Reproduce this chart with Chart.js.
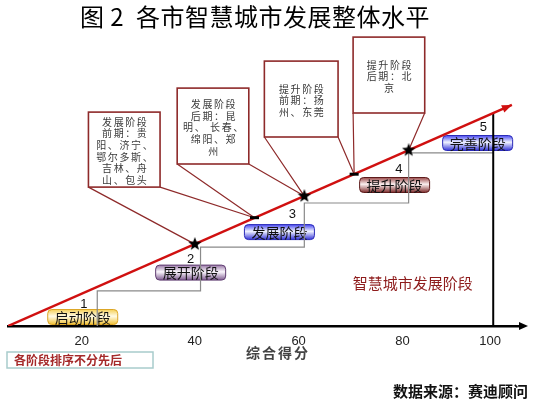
<!DOCTYPE html>
<html lang="zh">
<head>
<meta charset="utf-8">
<title>各市智慧城市发展整体水平</title>
<script src="https://cdn.jsdelivr.net/npm/chart.js@4.4.1/dist/chart.umd.min.js"></script>
<style>
  html, body { margin: 0; padding: 0; background: #fff; }
  #wrap { position: relative; width: 533px; height: 403px; }
</style>
</head>
<body>
<div id="wrap"><canvas id="stageChart"></canvas></div>
<script>
// x axis: tick labels and where they sit on the (schematic) score axis
const xTickLabels = ['20', '40', '60', '80', '100'];
const xTickValues = [18.2, 40, 60, 80, 96.9];

// red development trend line (start and tip)
const trendX = [4, 101.1];
const trendY = [0, 73.7];

// stage staircase: boundaries on x, level of each step on y
const stepX = [21.2, 41.1, 61.1, 81.2, 97.5];
const stepY = [11.7, 26.3, 41, 57.7];

// vertical line at full score
const fullX = 97.5;
const fullY = [0, 71];

// stars and small dashes sitting on the trend line
const starX = [40, 61.1, 81.2];
const starY = [27.3, 43.3, 58.6];
const dashX = [51.5, 70.7];
const dashY = [36.1, 50.6];

// stages
const stageNames = ['启动阶段', '展开阶段', '发展阶段', '提升阶段', '完善阶段'];
const stageNumbers = ['1', '2', '3', '4', '5'];

// callout texts
const calloutTexts = [
    ['发展阶段', '前期：贵', '阳、济宁、', '鄂尔多斯、', '吉林、舟', '山、包头'],
    ['发展阶段', '后期：昆', '明、 长春、', '绵阳、郑', '州'],
    ['提升阶段', '前期：扬', '州、东莞'],
    ['提升阶段', '后期：北', '京']
];

// ---- layout (data units) ----
const stageLayout = [
    { cx: 18.4, cy: 3.0, nx: 18.6, ny: 7.3, pal: ['#f5cf55', '#fffbe6', '#f0c035', '#dca626'] },
    { cx: 39.2, cy: 17.8, nx: 39.2, ny: 22.3, pal: ['#9a7aa8', '#fbf7fd', '#7e5a90', '#5e3c70'] },
    { cx: 56.3, cy: 31.3, nx: 58.8, ny: 37.3, pal: ['#4a4af0', '#f0f3ff', '#3434d8', '#2a2ab8'] },
    { cx: 78.5, cy: 47.0, nx: 79.3, ny: 52.3, pal: ['#9a4a4a', '#fbf0f0', '#7e2c2c', '#5e1c1c'] },
    { cx: 94.5, cy: 61.0, nx: 95.6, ny: 66.3, pal: ['#4a4af0', '#f0f3ff', '#3434d8', '#2a2ab8'] }
];

const calloutLayout = [
    { x1: 19.5, x2: 33.3, y1: 71.3, y2: 46.3, to: [['star', 0], ['dash', 0]] },
    { x1: 36.6, x2: 50.4, y1: 79.3, y2: 54.0, to: [['dash', 0], ['star', 1]] },
    { x1: 53.4, x2: 67.6, y1: 88.3, y2: 63.0, to: [['star', 1], ['dash', 1]] },
    { x1: 70.5, x2: 84.3, y1: 96.3, y2: 71.0, to: [['dash', 1], ['star', 2]] }
];

const CJK = '"Noto Sans CJK SC", "Liberation Sans", sans-serif';
Chart.defaults.font.family = CJK;

// filled star used as point style
function makeStar(size) {
    const c = document.createElement('canvas');
    c.width = size; c.height = size;
    const g = c.getContext('2d');
    const r = size / 2, ri = r * 0.42;
    g.beginPath();
    for (let i = 0; i < 10; i++) {
        const a = -Math.PI / 2 + i * Math.PI / 5;
        const rr = i % 2 === 0 ? r : ri;
        g.lineTo(r + rr * Math.cos(a), r + rr * Math.sin(a));
    }
    g.closePath();
    g.fillStyle = '#000';
    g.fill();
    return c;
}
const starImg = makeStar(14);

// staircase points
const stepPoints = [{ x: stepX[0], y: 0 }];
stepY.forEach((lvl, i) => {
    stepPoints.push({ x: stepX[i], y: lvl });
    stepPoints.push({ x: stepX[i + 1], y: lvl });
});

function anchor(ref, xs, ys) {
    const arrX = ref[0] === 'star' ? starX : dashX;
    const arrY = ref[0] === 'star' ? starY : dashY;
    return { x: xs.getPixelForValue(arrX[ref[1]]), y: ys.getPixelForValue(arrY[ref[1]]) };
}

function roundRectPath(ctx, l, t, w, h, r) {
    ctx.beginPath();
    ctx.moveTo(l + r, t);
    ctx.lineTo(l + w - r, t);
    ctx.quadraticCurveTo(l + w, t, l + w, t + r);
    ctx.lineTo(l + w, t + h - r);
    ctx.quadraticCurveTo(l + w, t + h, l + w - r, t + h);
    ctx.lineTo(l + r, t + h);
    ctx.quadraticCurveTo(l, t + h, l, t + h - r);
    ctx.lineTo(l, t + r);
    ctx.quadraticCurveTo(l, t, l + r, t);
    ctx.closePath();
}

const stageArt = {
    id: 'stageArt',
    beforeDatasetsDraw(chart) {
        const ctx = chart.ctx;
        const xs = chart.scales.x, ys = chart.scales.y;
        ctx.save();

        // callout boxes with their pointers
        calloutLayout.forEach((b, i) => {
            const l = xs.getPixelForValue(b.x1), r = xs.getPixelForValue(b.x2);
            const t = ys.getPixelForValue(b.y1), btm = ys.getPixelForValue(b.y2);
            const p1 = anchor(b.to[0], xs, ys), p2 = anchor(b.to[1], xs, ys);
            ctx.strokeStyle = '#8e2a2a';
            ctx.lineWidth = 1.2;
            ctx.beginPath();
            ctx.moveTo(l, btm); ctx.lineTo(p1.x, p1.y);
            ctx.moveTo(r, btm); ctx.lineTo(p2.x, p2.y);
            ctx.stroke();
            ctx.fillStyle = '#fff';
            ctx.fillRect(l, t, r - l, btm - t);
            ctx.lineWidth = 1.6;
            ctx.strokeRect(l, t, r - l, btm - t);

            const lines = calloutTexts[i];
            const lh = 11.6;
            const cy = (t + btm) / 2 + 1.5 - (lines.length - 1) * lh / 2;
            ctx.fillStyle = '#3a3a3a';
            ctx.font = '10px ' + CJK;
            ctx.letterSpacing = '1.6px';
            ctx.textAlign = 'center';
            ctx.textBaseline = 'middle';
            lines.forEach((s, k) => ctx.fillText(s, (l + r) / 2 + 1, cy + k * lh));
            ctx.letterSpacing = '0px';
        });

        // stage labels (lines pass over them)
        stageLayout.forEach((s, i) => {
            const cx = xs.getPixelForValue(s.cx), cy = ys.getPixelForValue(s.cy);
            const w = 70, h = 15, l = cx - w / 2, t = cy - h / 2;
            const g = ctx.createLinearGradient(0, t, 0, t + h);
            g.addColorStop(0, s.pal[0]);
            g.addColorStop(0.45, s.pal[1]);
            g.addColorStop(1, s.pal[2]);
            roundRectPath(ctx, l, t, w, h, 4);
            ctx.fillStyle = g;
            ctx.fill();
            ctx.strokeStyle = s.pal[3];
            ctx.lineWidth = 1;
            ctx.stroke();
            ctx.fillStyle = '#111';
            ctx.font = '14px ' + CJK;
            ctx.textAlign = 'center';
            ctx.textBaseline = 'middle';
            ctx.fillText(stageNames[i], cx, cy + 0.5);

            ctx.font = '13px "Liberation Sans", sans-serif';
            ctx.fillText(stageNumbers[i], xs.getPixelForValue(s.nx), ys.getPixelForValue(s.ny));
        });
        ctx.restore();
    },
    afterDraw(chart) {
        const ctx = chart.ctx;
        const xs = chart.scales.x, ys = chart.scales.y;
        const area = chart.chartArea;
        ctx.save();

        // arrow head on trend line
        const ax = xs.getPixelForValue(trendX[1]), ay = ys.getPixelForValue(trendY[1]);
        const bx = xs.getPixelForValue(trendX[0]), by = ys.getPixelForValue(trendY[0]);
        const ang = Math.atan2(ay - by, ax - bx);
        ctx.fillStyle = '#d01010';
        ctx.beginPath();
        ctx.moveTo(ax, ay);
        ctx.lineTo(ax - 10 * Math.cos(ang) + 4 * Math.sin(ang), ay - 10 * Math.sin(ang) - 4 * Math.cos(ang));
        ctx.lineTo(ax - 10 * Math.cos(ang) - 4 * Math.sin(ang), ay - 10 * Math.sin(ang) + 4 * Math.cos(ang));
        ctx.closePath();
        ctx.fill();

        // arrow head on x axis
        ctx.fillStyle = '#000';
        ctx.beginPath();
        ctx.moveTo(area.right + 8, area.bottom);
        ctx.lineTo(area.right - 1, area.bottom - 4);
        ctx.lineTo(area.right - 1, area.bottom + 4);
        ctx.closePath();
        ctx.fill();

        ctx.textBaseline = 'middle';

        // title, with the wide gaps round the figure number
        ctx.fillStyle = '#000';
        ctx.font = '24px ' + CJK;
        ctx.textAlign = 'center';
        ctx.fillText('图', 92, 17);
        ctx.fillText('2', 117, 17);
        ctx.textAlign = 'left';
        ctx.letterSpacing = '0.5px';
        ctx.fillText('各市智慧城市发展整体水平', 136, 17);
        ctx.letterSpacing = '0px';

        ctx.textAlign = 'center';
        // chart caption inside area
        ctx.fillStyle = '#8e1c1c';
        ctx.font = '15px ' + CJK;
        ctx.fillText('智慧城市发展阶段', xs.getPixelForValue(82), ys.getPixelForValue(14.3));

        // x axis title
        ctx.fillStyle = '#444';
        ctx.font = 'bold 14px ' + CJK;
        ctx.letterSpacing = '2px';
        ctx.fillText('综合得分', 278, 353);
        ctx.letterSpacing = '0px';

        // note box
        ctx.strokeStyle = '#a8cccc';
        ctx.lineWidth = 1.5;
        ctx.strokeRect(7, 352, 146, 16);
        ctx.fillStyle = '#a52a2a';
        ctx.font = 'bold 12px ' + CJK;
        ctx.textAlign = 'left';
        ctx.fillText('各阶段排序不分先后', 14, 360.5);

        // source
        ctx.fillStyle = '#111';
        ctx.font = 'bold 15px ' + CJK;
        ctx.textAlign = 'right';
        ctx.fillText('数据来源：赛迪顾问', 528, 391);
        ctx.restore();
    }
};

new Chart(document.getElementById('stageChart'), {
    type: 'scatter',
    data: {
        datasets: [
            {
                label: 'stars',
                data: starX.map((v, i) => ({ x: v, y: starY[i] })),
                pointStyle: starImg,
                pointRadius: 7
            },
            {
                label: 'dashes',
                data: dashX.map((v, i) => ({ x: v, y: dashY[i] })),
                pointStyle: 'line',
                pointRadius: 4.5,
                borderColor: '#000',
                borderWidth: 3
            },
            {
                label: 'trend',
                data: trendX.map((v, i) => ({ x: v, y: trendY[i] })),
                showLine: true,
                pointRadius: 0,
                borderColor: '#d01010',
                borderWidth: 2.5
            },
            {
                label: 'full score',
                data: fullY.map(v => ({ x: fullX, y: v })),
                showLine: true,
                pointRadius: 0,
                borderColor: '#000',
                borderWidth: 2
            },
            {
                label: 'steps',
                data: stepPoints,
                showLine: true,
                pointRadius: 0,
                borderColor: '#8a8a8a',
                borderWidth: 1.2
            }
        ]
    },
    options: {
        responsive: true,
        maintainAspectRatio: false,
        animation: false,
        layout: { padding: { left: 5, right: 13, top: 26, bottom: 0 } },
        plugins: {
            legend: { display: false },
            tooltip: { enabled: false },
            title: { display: false }
        },
        scales: {
            x: {
                type: 'linear',
                min: 4,
                max: 102.66,
                grid: { display: false, drawTicks: false },
                border: { display: true, color: '#000', width: 2.5 },
                afterBuildTicks: function(scale) {
                    scale.ticks = xTickValues.map(v => ({ value: v }));
                },
                afterFit: function(scale) {
                    scale.height = 77;
                },
                ticks: {
                    padding: 8,
                    color: '#222',
                    font: { size: 13, family: '"Liberation Sans", sans-serif' },
                    callback: function(value, index) {
                        return xTickLabels[index];
                    }
                }
            },
            y: {
                type: 'linear',
                min: 0,
                max: 100,
                display: false
            }
        }
    },
    plugins: [stageArt]
});
</script>
</body>
</html>
